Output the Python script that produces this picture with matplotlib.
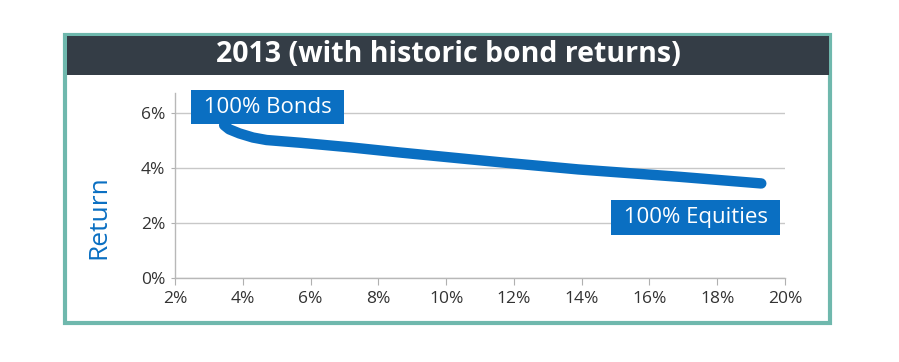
import matplotlib
matplotlib.use("Agg")
import matplotlib.pyplot as plt
from matplotlib.patches import Rectangle
from matplotlib.ticker import FuncFormatter

# risk (x, %) vs return (y, %)
risk = [3.45, 3.6, 3.9, 4.3, 4.7, 5.7, 7.2, 8.6, 10.1, 11.6, 13.9, 16.9, 19.3]
ret = [5.57, 5.42, 5.27, 5.12, 5.03, 4.93, 4.76, 4.58, 4.40, 4.22, 3.96, 3.69, 3.45]

xticks = [2, 4, 6, 8, 10, 12, 14, 16, 18, 20]
yticks = [0, 2, 4, 6]
title = "2013 (with historic bond returns)"
label_bonds = "100% Bonds"
label_eq = "100% Equities"

blue = "#0a6fc2"
teal = "#6fb8ad"
dark = "#343d46"

plt.rcParams['font.family'] = ['Open Sans', 'DejaVu Sans']

W, H = 899, 362
fig = plt.figure(figsize=(W / 100, H / 100), dpi=100)
fig.patch.set_facecolor("white")

# teal frame and dark header
fig.add_artist(Rectangle((65 / W, 1 - 323 / H), 765 / W, 288 / H,
                         transform=fig.transFigure, fill=False,
                         edgecolor=teal, linewidth=3))
fig.add_artist(Rectangle((66.5 / W, 1 - 75 / H), 762 / W, 39 / H,
                         transform=fig.transFigure, facecolor=dark,
                         edgecolor="none"))
fig.text(448 / W, 1 - 55 / H, title, color="white", fontsize=20.5,
         fontweight="bold", ha="center", va="center")

ax = fig.add_axes([175 / W, 1 - 278.3 / H, 610 / W, (278.3 - 93) / H])
ax.plot(risk, ret, color=blue, linewidth=7.5, solid_capstyle="round",
        solid_joinstyle="round", zorder=3)

ax.set_xlim(2, 20)
ax.set_ylim(0, 6.74)
ax.set_xticks(xticks)
ax.set_yticks(yticks)
pct = FuncFormatter(lambda v, p: f"{v:.0f}%")
ax.xaxis.set_major_formatter(pct)
ax.yaxis.set_major_formatter(pct)
ax.tick_params(axis="x", length=5, color="#b0b0b0", labelsize=12.5,
               labelcolor="#333333", pad=4)
ax.tick_params(axis="y", length=3, color="#b0b0b0", labelsize=12.5,
               labelcolor="#333333", pad=4)
ax.grid(axis="y", color="#c8c8c8", linewidth=1)
ax.set_axisbelow(True)
for s in ["top", "right"]:
    ax.spines[s].set_visible(False)
for s in ["left", "bottom"]:
    ax.spines[s].set_color("#b8b8b8")
    ax.spines[s].set_linewidth(1)

fig.text(99 / W, 1 - 217 / H, "Return", color=blue, fontsize=19,
         rotation=90, ha="center", va="center")

ax.text(4.73, 6.23, " " + label_bonds + " ", color="white", fontsize=16,
        ha="center", va="center", zorder=4,
        bbox=dict(boxstyle="square,pad=0.3", facecolor=blue,
                  edgecolor="none"))
ax.text(17.36, 2.21, " " + label_eq + " ", color="white", fontsize=16,
        ha="center", va="center", zorder=4,
        bbox=dict(boxstyle="square,pad=0.3", facecolor=blue,
                  edgecolor="none"))

fig.savefig("out.png", dpi=100)
